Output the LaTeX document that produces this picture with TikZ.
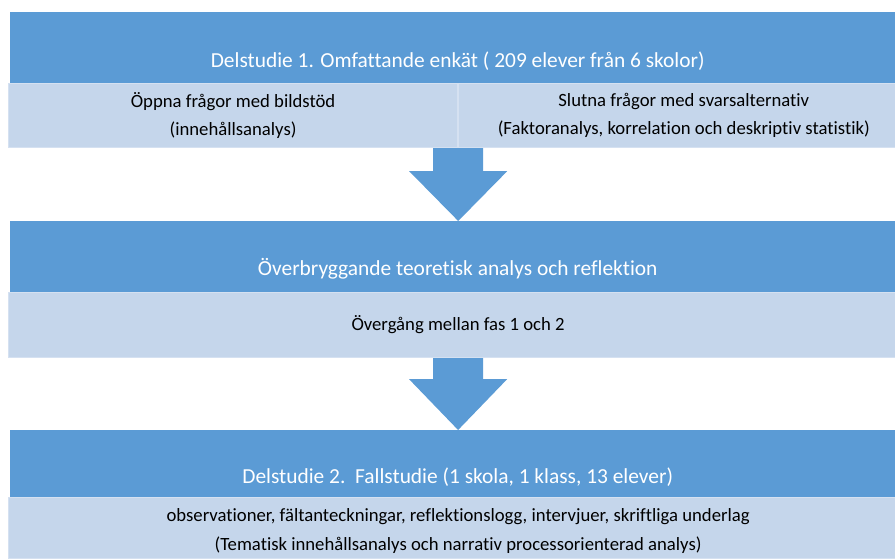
\documentclass[tikz,border=0pt]{standalone}
\usepackage{fontspec}
\setmainfont{Carlito}[Ligatures={NoCommon}]
\usepackage{tikz}
\usetikzlibrary{calc,positioning}
\definecolor{phase}{HTML}{5B9BD5}
\definecolor{phaseL}{HTML}{C5D6EB}
\definecolor{phaseE}{HTML}{D5E1F1}

\begin{document}
\begin{tikzpicture}[x=1pt, y=-1pt,
  headbox/.style={fill=phase, anchor=north west, inner sep=0pt, minimum width=895pt},
  subbox/.style={fill=phaseL, draw=phaseE, line width=1.2pt, anchor=north west, inner sep=0pt},
  headtext/.style={text=white, font=\fontsize{21.4}{26}\selectfont},
  subtext/.style={align=center, font=\fontsize{18.7}{28.5}\selectfont}]
\useasboundingbox (0,0) rectangle (895,558);
% phase 1
\node[headbox, minimum height=71pt] (head1) at (10,12) {};
\node[headtext] (head1t) at ($(head1.center)+(0,13)$) {Delstudie 1. Omfattande enkät ( 209 elever från 6 skolor)};
\node[subbox, minimum width=449pt, minimum height=64pt] (open) at (8,83) {};
\node[subbox, minimum width=450pt, minimum height=64pt] (closed) at (open.north east) {};
\node[subtext] (opent) at (open.center) {Öppna frågor med bildstöd\\(innehållsanalys)};
\node[subtext] (closedt) at (closed.center) {Slutna frågor med svarsalternativ\\(Faktoranalys, korrelation och deskriptiv statistik)};
% bridge
\node[headbox, minimum height=71pt] (head2) at (10,221) {};
\node[headtext] (head2t) at ($(head2.center)+(0,12)$) {Överbryggande teoretisk analys och reflektion};
\node[subbox, minimum width=899pt, minimum height=65pt] (bridge) at (8,292) {};
\node[subtext] (bridget) at (bridge.center) {Övergång mellan fas 1 och 2};
% phase 2
\node[headbox, minimum height=67pt] (head3) at (10,430) {};
\node[headtext] (head3t) at ($(head3.center)+(0,13)$) {Delstudie 2.\ \ Fallstudie (1 skola, 1 klass, 13 elever)};
\node[subbox, minimum width=899pt, minimum height=61pt] (case) at (8,497) {};
\node[subtext] (caset) at ($(case.center)+(0,3)$) {observationer, fältanteckningar, reflektionslogg, intervjuer, skriftliga underlag\\(Tematisk innehållsanalys och narrativ processorienterad analys)};
% arrows
\fill[phase] ($(open.south east)+(-25,0)$) -- ($(open.south east)+(25,0)$) -- ($(open.south east)+(25,23)$) -- ($(open.south east)+(49,23)$)
  -- (open.south east |- head2.north) -- ($(open.south east)+(-49,23)$) -- ($(open.south east)+(-25,23)$) -- cycle;
\fill[phase] ($(bridge.south)+(-25,0)$) -- ($(bridge.south)+(25,0)$) -- ($(bridge.south)+(25,21)$) -- ($(bridge.south)+(49,21)$)
  -- (bridge.south |- head3.north) -- ($(bridge.south)+(-49,21)$) -- ($(bridge.south)+(-25,21)$) -- cycle;
\end{tikzpicture}
\end{document}
